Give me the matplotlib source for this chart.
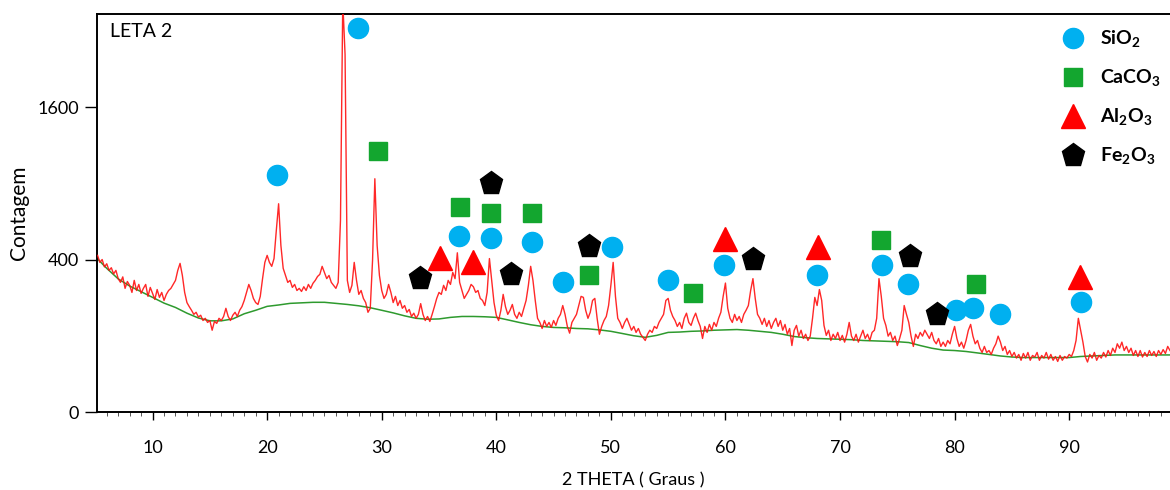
import numpy as np
import matplotlib
matplotlib.use('Agg')
import matplotlib.pyplot as plt
from matplotlib.ticker import FixedLocator, MultipleLocator

plt.rcParams['font.family'] = ['Lato', 'DejaVu Sans']
plt.rcParams['mathtext.fontset'] = 'custom'
plt.rcParams['mathtext.rm'] = 'Lato'
plt.rcParams['mathtext.bf'] = 'Lato:bold'

# diffractogram, 2theta 5.2 .. 98.8 in 0.2 deg steps
counts = [
    422, 385, 400, 362, 378, 345, 358, 328, 345, 306,
    289, 314, 263, 293, 276, 246, 298, 254, 280, 242,
    263, 280, 230, 267, 242, 218, 258, 226, 246, 214,
    238, 254, 263, 280, 298, 345, 380, 321, 246, 206,
    191, 178, 164, 171, 155, 161, 144, 151, 138, 144,
    115, 141, 135, 151, 144, 157, 185, 157, 144, 161,
    171, 157, 178, 191, 214, 246, 280, 254, 222, 206,
    199, 230, 306, 385, 422, 385, 365, 405, 567, 746,
    477, 355, 321, 289, 298, 267, 280, 254, 263, 250,
    270, 254, 280, 263, 285, 298, 316, 326, 365, 335,
    306, 321, 289, 276, 263, 289, 631, 2900, 2200, 298,
    246, 276, 385, 298, 238, 254, 222, 206, 171, 185,
    396, 936, 477, 321, 254, 222, 238, 280, 246, 206,
    230, 195, 214, 185, 195, 171, 181, 157, 168, 151,
    164, 202, 164, 144, 157, 141, 164, 191, 222, 246,
    238, 276, 254, 298, 280, 335, 306, 436, 289, 254,
    222, 238, 254, 280, 270, 246, 254, 222, 214, 195,
    246, 405, 298, 206, 161, 144, 178, 238, 191, 164,
    178, 199, 164, 151, 171, 157, 185, 214, 276, 365,
    298, 214, 151, 138, 120, 144, 126, 138, 123, 144,
    129, 151, 164, 195, 164, 126, 107, 138, 151, 164,
    195, 230, 226, 178, 151, 171, 214, 222, 151, 104,
    126, 144, 157, 195, 276, 385, 230, 151, 138, 120,
    138, 151, 132, 115, 126, 109, 120, 104, 96, 88,
    104, 115, 109, 126, 120, 138, 151, 164, 214, 222,
    178, 157, 144, 126, 138, 120, 151, 168, 138, 129,
    151, 168, 144, 126, 93, 126, 109, 132, 115, 138,
    126, 151, 171, 230, 286, 185, 151, 138, 164, 144,
    157, 138, 164, 178, 195, 254, 306, 222, 164, 151,
    132, 151, 126, 144, 120, 138, 151, 126, 144, 115,
    132, 104, 120, 76, 115, 129, 99, 115, 93, 104,
    88, 99, 151, 226, 195, 258, 214, 129, 101, 115,
    88, 104, 93, 109, 88, 101, 84, 104, 138, 99,
    88, 104, 84, 99, 115, 93, 104, 88, 109, 115,
    151, 306, 230, 151, 129, 99, 109, 88, 99, 76,
    93, 115, 195, 164, 138, 99, 74, 104, 93, 109,
    99, 115, 104, 93, 109, 88, 80, 93, 74, 84,
    74, 88, 80, 104, 126, 93, 74, 84, 70, 88,
    115, 132, 99, 80, 88, 70, 61, 74, 61, 65,
    57, 70, 80, 99, 84, 65, 74, 57, 65, 53,
    61, 50, 57, 46, 59, 50, 61, 46, 55, 52,
    61, 46, 55, 50, 61, 48, 57, 46, 53, 44,
    55, 46, 53, 50, 57, 53, 65, 88, 151, 115,
    84, 53, 43, 57, 50, 61, 46, 55, 50, 61,
    52, 65, 55, 70, 61, 80, 70, 84, 65, 74,
    61, 70, 55, 65, 53, 65, 52, 61, 53, 65,
    55, 63, 53, 65, 57, 67, 59, 74, 65,
]
theta = np.linspace(5.2, 98.8, len(counts))

# fitted background
bg_theta = [5.15] + list(range(6, 99)) + [98.8]
bg_counts = [
    406, 355, 305, 273, 249, 226, 204, 188, 168, 152, 143,
    143, 149, 166, 178, 192, 197, 203, 205, 207, 207,
    203, 199, 194, 187, 178, 169, 159, 151, 148, 149,
    154, 157, 157, 156, 154, 146, 138, 131, 126, 123,
    122, 120, 119, 116, 112, 106, 100, 96, 101, 109,
    110, 112, 113, 115, 116, 117, 115, 112, 109, 104,
    98, 95, 93, 92, 91, 90, 88, 87, 86, 85,
    83, 76, 70, 66, 65, 63, 60, 57, 54, 52,
    51, 51, 51, 51, 51, 53, 54, 55, 56, 56,
    56, 56, 56, 56,
]

# phase identification markers
sio2_theta = [20.9, 27.9, 36.75, 39.5, 43.1, 45.85, 50.1, 55.0, 59.9, 68.0,
              73.7, 75.95, 80.1, 81.6, 84.0, 91.0]
sio2_counts = [970, 2540, 530, 518, 495, 289, 466, 298, 370, 321,
               370, 280, 178, 185, 164, 207]
caco3_theta = [29.7, 36.8, 39.5, 43.15, 48.05, 57.2, 73.6, 81.9]
caco3_counts = [1176, 722, 680, 680, 321, 245, 506, 280]
al2o3_theta = [35.1, 37.95, 60.0, 68.05, 90.95]
al2o3_counts = [406, 386, 516, 468, 313]
fe2o3_theta = [33.35, 39.55, 41.3, 48.05, 62.4, 76.1, 78.5]
fe2o3_counts = [310, 900, 326, 472, 404, 416, 166]

fig = plt.figure(figsize=(11.7, 4.9), dpi=100)
ax = fig.add_axes([97 / 1170, 1 - 412 / 490, 1 - 97 / 1170, 398 / 490])
ax.set_yscale('function', functions=(lambda v: np.sqrt(np.clip(v, 0, None)), np.square))

ax.plot(bg_theta, bg_counts, color='#2e9a2e', lw=1.1, zorder=2)
ax.plot(theta, counts, color='#ff1010', lw=1.0, alpha=0.9, zorder=3)

ms = dict(linestyle='none', zorder=5)
ax.plot(sio2_theta, sio2_counts, marker='o', ms=14.5, color='#00b0f0',
        label=r'SiO$_\mathbf{2}$', **ms)
ax.plot(caco3_theta, caco3_counts, marker='s', ms=13.5, color='#13a62f',
        label=r'CaCO$_\mathbf{3}$', **ms)
ax.plot(al2o3_theta, al2o3_counts, marker='^', ms=17, color='#ff0000',
        label=r'Al$_\mathbf{2}$O$_\mathbf{3}$', **ms)
ax.plot(fe2o3_theta, fe2o3_counts, marker='p', ms=17, color='black',
        label=r'Fe$_\mathbf{2}$O$_\mathbf{3}$', **ms)

ax.set_xlim(5.15, 98.8)
ax.set_ylim(0, 2725)
ax.yaxis.set_major_locator(FixedLocator([0, 400, 1600]))
ax.xaxis.set_major_locator(FixedLocator(range(10, 100, 10)))
ax.xaxis.set_minor_locator(MultipleLocator(1))
ax.yaxis.set_minor_locator(FixedLocator([]))
ax.tick_params(axis='x', which='major', length=6, width=1, labelsize=13, pad=14)
ax.tick_params(axis='x', which='minor', length=3, width=0.7, color='#555555')
ax.tick_params(axis='y', which='major', length=9, width=1, labelsize=13, pad=4)

for side in ['left', 'top', 'bottom']:
    ax.spines[side].set_linewidth(1.4)
ax.spines['right'].set_visible(False)

ax.set_xlabel('2 THETA ( Graus )', fontsize=13, labelpad=12)
ax.set_ylabel('Contagem', fontsize=15, labelpad=6)
ax.text(0.012, 0.955, 'LETA 2', transform=ax.transAxes, fontsize=14, va='center')

leg = ax.legend(loc='upper left', bbox_to_anchor=(0.896, 0.9636), frameon=False,
                borderpad=0, borderaxespad=0, handlelength=1.5, handletextpad=0.64,
                labelspacing=0.92, prop={'weight': 'bold', 'size': 14})

fig.savefig('out.png', dpi=100)
